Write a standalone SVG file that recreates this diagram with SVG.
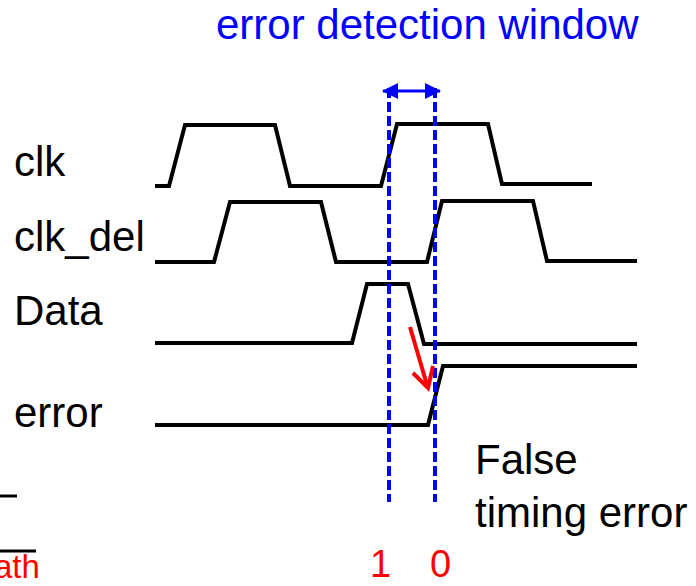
<svg xmlns="http://www.w3.org/2000/svg" width="696" height="586" viewBox="0 0 696 586">
  <style>
    .lbl { font-family: "Liberation Sans", Arial, sans-serif; font-size: 42px; fill: #000; }
    .blue { fill: #0000ff; }
    .red { fill: #ff0000; }
    .wave { fill: none; stroke: #000; stroke-width: 4; stroke-linejoin: miter; }
    .marker-line { stroke: #0000ff; stroke-width: 4; stroke-dasharray: 10 4; fill: none; }
  </style>
  <defs>
    <marker id="bluehead" viewBox="0 0 16 16" refX="15" refY="8" markerWidth="16" markerHeight="16" markerUnits="userSpaceOnUse" orient="auto-start-reverse">
      <path d="M0,0 L16,8 L0,16 z" fill="#0000ff"/>
    </marker>
  </defs>

  <rect width="696" height="586" fill="#fff"/>

  <text class="lbl blue" x="216" y="39">error detection window</text>

  <g id="clk">
    <text class="lbl" x="14" y="176">clk</text>
    <polyline class="wave" points="155,186 169,186 185,125 275,125 290,186 381,186 397,124 488,124 502,184 592,184"/>
  </g>

  <g id="clk_del">
    <text class="lbl" x="14" y="251">clk_del</text>
    <polyline class="wave" points="155,262 214,262 230,202 321,202 336,262 427,262 442,201 533,201 547,261 637,261"/>
  </g>

  <g id="data">
    <text class="lbl" x="14" y="325">Data</text>
    <polyline class="wave" points="155,343 352,343 367,284 408,284 424,344 637,344"/>
  </g>

  <g id="error">
    <text class="lbl" x="14" y="427">error</text>
    <polyline class="wave" points="155,425 428,425 443,366 637,366"/>
  </g>

  <g id="window">
    <line class="marker-line" x1="389" y1="88" x2="389" y2="502"/>
    <line class="marker-line" x1="435" y1="88" x2="435" y2="502"/>
    <line x1="383" y1="91" x2="440" y2="91" stroke="#0000ff" stroke-width="3" marker-start="url(#bluehead)" marker-end="url(#bluehead)"/>
  </g>

  <g id="connectors">
    <line x1="410" y1="327" x2="427" y2="385" stroke="#ff0000" stroke-width="4"/>
    <polyline points="413,373 428,388 433,366" fill="none" stroke="#ff0000" stroke-width="4" stroke-linejoin="miter"/>
  </g>

  <g id="false-error">
    <text class="lbl" x="475" y="474">False</text>
    <text class="lbl" x="475" y="527">timing error</text>
  </g>

  <g id="bits">
    <text class="lbl red" style="font-size:38px" x="370" y="577">1</text>
    <text class="lbl red" style="font-size:38px" x="430" y="577">0</text>
  </g>

  <g id="path-label">
    <line x1="0" y1="496" x2="17" y2="496" stroke="#000" stroke-width="3"/>
    <line x1="0" y1="551" x2="36" y2="551" stroke="#000" stroke-width="3"/>
    <text class="lbl red" style="font-size:33px" x="-6" y="578">ath</text>
  </g>
</svg>
